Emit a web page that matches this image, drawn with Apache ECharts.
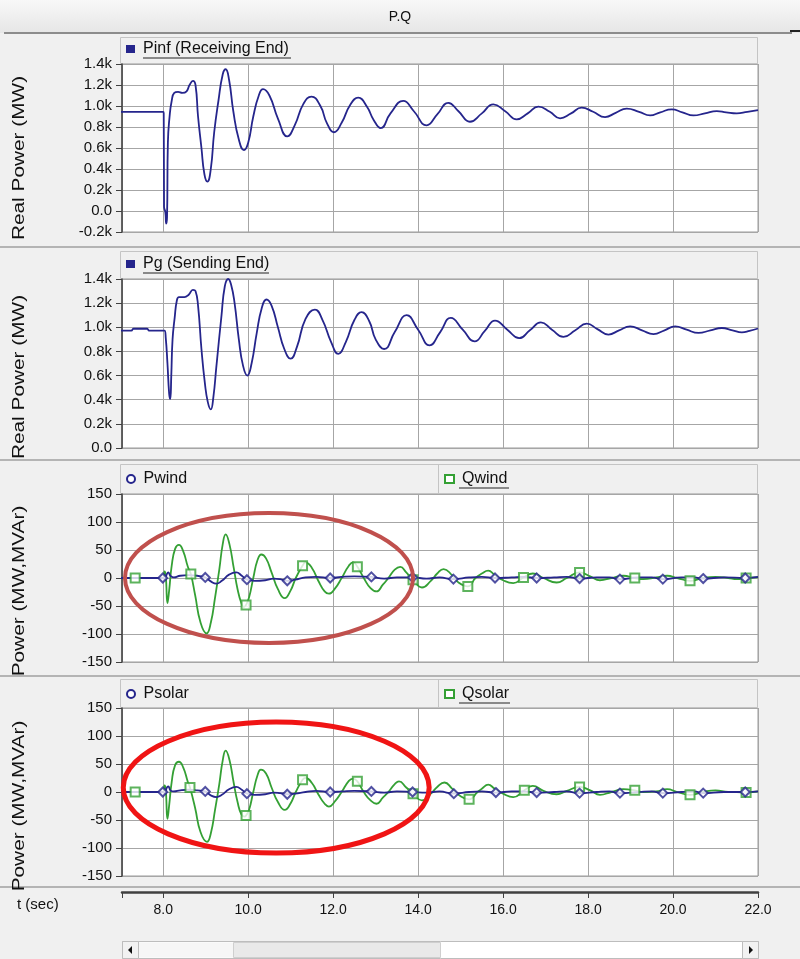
<!DOCTYPE html>
<html>
<head>
<meta charset="utf-8">
<title>P.Q</title>
<script src="https://cdn.jsdelivr.net/npm/echarts@6/dist/echarts.min.js"></script>
<style>
  html, body { margin: 0; padding: 0; background: #f0f0f0; }
  #chart { width: 800px; height: 959px; }
</style>
</head>
<body>
<div id="chart"></div>
<script>
// time axis (sec)
const tMin = 7.03;
const tMax = 22.0;
const timeTicks = [8, 10, 12, 14, 16, 18, 20, 22];

// panel 1 : Pinf (Receiving End), MW
const pinf = [[7.0,945],[8.0,945],[8.012,930],[8.02,40],[8.05,-10],[8.07,-120],[8.09,-60],[8.11,650],[8.15,900],[8.2,1050],[8.26,1125],[8.35,1135],[8.45,1125],[8.55,1140],[8.62,1200],[8.7,1240],[8.76,1200],[8.82,900],[8.9,600],[8.97,350],[9.04,280],[9.12,400],[9.2,750],[9.3,1050],[9.4,1300],[9.47,1350],[9.55,1250],[9.65,950],[9.78,680],[9.9,580],[10.0,650],[10.12,900],[10.25,1100],[10.35,1160],[10.5,1100],[10.7,880],[10.92,710],[11.1,820],[11.3,1020],[11.49,1090],[11.7,1000],[11.85,840],[12.02,750],[12.2,840],[12.4,1010],[12.59,1080],[12.8,990],[12.95,870],[13.12,790],[13.35,930],[13.65,1048],[13.9,950],[14.2,816],[14.45,920],[14.71,1030],[14.95,950],[15.22,850],[15.5,930],[15.77,1016],[16.05,950],[16.32,873],[16.58,930],[16.83,994],[17.1,945],[17.34,883],[17.6,930],[17.85,984],[18.12,945],[18.4,895],[18.65,935],[18.91,975],[19.2,945],[19.46,910],[19.7,940],[19.97,968],[20.22,940],[20.48,910],[20.75,930],[21.03,952],[21.25,940],[21.5,930],[21.75,945],[22.0,960]];

// panel 2 : Pg (Sending End), MW
const pg = [[7.0,972],[7.25,972],[7.3,988],[7.62,988],[7.67,972],[8.03,972],[8.06,910],[8.1,700],[8.14,450],[8.165,405],[8.19,600],[8.22,900],[8.27,1080],[8.32,1220],[8.37,1250],[8.5,1250],[8.6,1270],[8.7,1310],[8.76,1300],[8.82,1180],[8.9,820],[8.98,540],[9.05,380],[9.12,320],[9.18,420],[9.25,670],[9.37,1090],[9.45,1340],[9.53,1400],[9.6,1350],[9.68,1200],[9.78,900],[9.88,680],[9.98,600],[10.08,700],[10.2,950],[10.32,1160],[10.43,1230],[10.55,1180],[10.7,1000],[10.85,820],[11.0,740],[11.15,840],[11.35,1070],[11.57,1147],[11.75,1060],[11.95,880],[12.12,780],[12.3,880],[12.5,1060],[12.67,1125],[12.85,1050],[13.0,900],[13.2,820],[13.45,960],[13.73,1100],[14.0,980],[14.27,850],[14.52,960],[14.77,1078],[15.05,980],[15.33,883],[15.57,970],[15.81,1056],[16.1,980],[16.38,910],[16.63,975],[16.89,1040],[17.15,980],[17.42,920],[17.7,975],[17.97,1030],[18.22,985],[18.48,940],[18.73,975],[18.99,1008],[19.27,975],[19.54,944],[19.8,975],[20.05,1008],[20.32,980],[20.6,953],[20.88,975],[21.15,994],[21.4,975],[21.62,958],[21.8,970],[22.0,990]];

// panel 3 : wind, MW / MVAr
const pwind = [[7.0,0],[8.0,0],[8.04,-3],[8.08,6],[8.12,10],[8.17,4],[8.25,1],[8.4,4],[8.6,5],[8.8,4],[8.99,1],[9.12,-6],[9.25,-10],[9.38,-5],[9.55,6],[9.72,10],[9.85,4],[9.97,-3],[10.15,-5],[10.4,-4],[10.6,-1],[10.75,-2],[10.92,-5],[11.1,-3],[11.35,1],[11.6,2],[11.93,0],[12.2,2],[12.5,3],[12.9,2],[13.2,-1],[13.5,1],[13.87,1],[14.2,-1],[14.5,1],[14.83,-2],[15.2,1],[15.5,2],[15.81,0],[16.2,1],[16.5,2],[16.79,0],[17.2,1],[17.5,2],[17.8,-1],[18.2,1],[18.5,1],[18.75,-2],[19.2,1],[19.5,1],[19.76,-2],[20.2,1],[20.5,1],[20.71,-1],[21.2,1],[21.7,0],[22.0,2]];
const pwindMarks = [[7.0,0],[7.99,0],[8.99,1],[9.97,-3],[10.92,-5],[11.93,0],[12.9,2],[13.87,1],[14.83,-2],[15.81,0],[16.79,0],[17.8,-1],[18.75,-2],[19.76,-2],[20.71,-1],[21.7,0]];
const qwind = [[7.0,0],[8.0,0],[8.03,12],[8.06,4],[8.1,-45],[8.14,-22],[8.2,22],[8.28,52],[8.37,59],[8.47,48],[8.58,20],[8.65,7],[8.75,-30],[8.88,-80],[9.02,-99],[9.12,-80],[9.22,-35],[9.32,15],[9.4,60],[9.47,78],[9.56,60],[9.66,18],[9.75,-20],[9.84,-45],[9.9,-52],[9.95,-48],[10.02,-35],[10.12,0],[10.22,32],[10.31,42],[10.42,35],[10.55,10],[10.7,-20],[10.86,-36],[11.0,-22],[11.12,0],[11.28,22],[11.35,28],[11.5,18],[11.65,-5],[11.8,-24],[11.9,-28],[12.05,-18],[12.2,0],[12.37,22],[12.47,28],[12.57,20],[12.72,0],[12.88,-18],[13.02,-24],[13.17,-12],[13.3,0],[13.45,15],[13.58,20],[13.72,10],[13.88,-3],[14.09,-17],[14.3,-5],[14.45,8],[14.6,16],[14.8,5],[14.95,-8],[15.17,-15],[15.35,0],[15.5,8],[15.65,13],[15.8,6],[16.0,-4],[16.24,-9],[16.48,1],[16.7,8],[16.95,0],[17.26,-8],[17.5,0],[17.8,10],[18.05,3],[18.28,-4],[18.55,0],[18.83,4],[19.1,0],[19.3,-2],[19.6,1],[19.86,4],[20.1,0],[20.4,-5],[20.7,0],[21.0,2],[21.3,0],[21.5,-2],[21.72,0],[22.0,1]];
const qwindMarks = [[7.34,0],[8.65,7],[9.95,-48],[11.28,22],[12.57,20],[13.88,-3],[15.17,-15],[16.48,1],[17.8,10],[19.1,0],[20.4,-5],[21.72,0]];

// panel 4 : solar, MW / MVAr
const psolar = [[7.0,0],[8.0,0],[8.04,-3],[8.08,7],[8.12,10],[8.17,3],[8.25,1],[8.4,3],[8.6,4],[8.8,3],[8.99,1],[9.12,-6],[9.25,-9],[9.38,-5],[9.55,5],[9.72,9],[9.85,4],[9.97,-3],[10.15,-5],[10.4,-4],[10.6,-1],[10.75,-2],[10.92,-4],[11.1,-3],[11.35,0],[11.6,2],[11.93,0],[12.2,1],[12.5,2],[12.9,1],[13.2,-1],[13.5,1],[13.87,0],[14.2,-1],[14.5,1],[14.84,-3],[15.2,0],[15.5,1],[15.83,-1],[16.2,1],[16.5,1],[16.79,-1],[17.2,0],[17.5,1],[17.8,-2],[18.2,0],[18.5,1],[18.75,-2],[19.2,0],[19.5,1],[19.76,-2],[20.2,0],[20.5,1],[20.71,-2],[21.2,0],[21.7,0],[22.0,1]];
const psolarMarks = [[7.0,0],[7.99,0],[8.99,1],[9.97,-3],[10.92,-4],[11.93,0],[12.9,1],[13.87,0],[14.84,-3],[15.83,-1],[16.79,-1],[17.8,-2],[18.75,-2],[19.76,-2],[20.71,-2],[21.7,0]];
const qsolar = [[7.0,0],[8.0,0],[8.03,12],[8.06,4],[8.1,-48],[8.14,-24],[8.2,18],[8.28,48],[8.37,54],[8.47,44],[8.58,18],[8.63,8],[8.75,-28],[8.88,-72],[9.03,-89],[9.12,-74],[9.22,-32],[9.32,14],[9.4,56],[9.47,74],[9.56,57],[9.66,16],[9.75,-18],[9.84,-40],[9.92,-44],[9.95,-42],[10.02,-32],[10.12,0],[10.22,30],[10.3,40],[10.42,33],[10.55,8],[10.7,-18],[10.86,-32],[11.0,-20],[11.12,0],[11.28,22],[11.35,25],[11.5,16],[11.65,-4],[11.8,-21],[11.9,-26],[12.05,-16],[12.2,0],[12.37,20],[12.47,24],[12.57,19],[12.72,0],[12.88,-15],[13.02,-21],[13.17,-10],[13.3,0],[13.45,14],[13.55,19],[13.72,8],[13.88,-3],[14.09,-15],[14.3,-3],[14.45,9],[14.62,17],[14.8,6],[14.95,-5],[15.2,-13],[15.4,0],[15.5,6],[15.65,13],[15.8,6],[16.0,-3],[16.24,-9],[16.5,3],[16.7,11],[16.95,2],[17.26,-4],[17.5,2],[17.8,9],[18.05,3],[18.28,-5],[18.55,0],[18.83,5],[19.1,3],[19.3,0],[19.6,1],[19.86,5],[20.1,0],[20.4,-5],[20.7,0],[21.0,3],[21.3,0],[21.5,0],[21.72,-1],[22.0,1]];
const qsolarMarks = [[7.34,0],[8.63,8],[9.95,-42],[11.28,22],[12.57,19],[13.88,-3],[15.2,-13],[16.5,3],[17.8,9],[19.1,3],[20.4,-5],[21.72,-1]];

const font = "'Liberation Sans', Arial, sans-serif";
const navy = "#25258c";
const green = "#34a034";
const gridColor = "#a6a6a6";

// plot areas, y ranges
const panels = [
  { top: 64, height: 168, min: -200, max: 1400, step: 200, kilo: true, name: "Real Power (MW)", nameY: 158 },
  { top: 279, height: 169, min: 0, max: 1400, step: 200, kilo: true, name: "Real Power (MW)", nameY: 377 },
  { top: 494, height: 168, min: -150, max: 150, step: 50, kilo: false, name: "Power (MW,MVAr)", nameY: 591 },
  { top: 708, height: 168, min: -150, max: 150, step: 50, kilo: false, name: "Power (MW,MVAr)", nameY: 806 },
];

const chart = echarts.init(document.getElementById("chart"));

const kiloLabel = (v) => (v === 0 ? "0.0" : (v / 1000).toFixed(1) + "k");

const lineSeries = (name, idx, data, color) => ({
  type: "line",
  name: name,
  xAxisIndex: idx,
  yAxisIndex: idx,
  data: data,
  symbol: "none",
  smooth: 0.5,
  lineStyle: { color: color, width: 1.8 },
  itemStyle: { color: color },
  silent: true,
});

const markSeries = (name, idx, data, color, symbol, size) => ({
  type: "scatter",
  name: name,
  xAxisIndex: idx,
  yAxisIndex: idx,
  data: data,
  symbol: symbol,
  symbolSize: size,
  itemStyle: { color: color },
  silent: true,
  z: 3,
});

const legendText = { fontFamily: font, fontSize: 16, color: "#111", padding: [0, 0, 0, 3] };
const makeLegend = (name, left, top, icon) => ({
  left: left,
  top: top,
  padding: 0,
  itemWidth: 9,
  itemHeight: 8,
  selectedMode: false,
  data: [{ name: name, icon: icon }],
  textStyle: legendText,
});

const option = {
  animation: false,
  backgroundColor: "#f0f0f0",
  grid: panels.map((p) => ({
    left: 122,
    width: 636,
    top: p.top,
    height: p.height,
    show: true,
    backgroundColor: "#fff",
    borderColor: "#9a9a9a",
    borderWidth: 1,
  })),
  xAxis: panels.map((p, i) => ({
    type: "value",
    gridIndex: i,
    min: tMin,
    max: tMax,
    minInterval: 2,
    maxInterval: 2,
    offset: i === 3 ? 16 : 0,
    axisLine: { show: i === 3, onZero: false, lineStyle: { color: "#404040", width: 2.5 } },
    axisTick: { show: i === 3, length: 6, lineStyle: { color: "#404040", width: 1 } },
    axisLabel: {
      show: i === 3,
      margin: 11,
      fontFamily: font,
      fontSize: 14,
      color: "#111",
      formatter: (v) => (timeTicks.includes(Math.round(v * 100) / 100) ? v.toFixed(1) : ""),
    },
    splitLine: { show: true, lineStyle: { color: gridColor, width: 1 } },
  })),
  yAxis: panels.map((p, i) => ({
    type: "value",
    gridIndex: i,
    min: p.min,
    max: p.max,
    interval: p.step,
    axisLine: { show: true, lineStyle: { color: "#404040", width: 1.5 } },
    axisTick: { show: true, length: 6, lineStyle: { color: "#404040" } },
    axisLabel: {
      margin: 10,
      fontFamily: font,
      fontSize: 15,
      color: "#111",
      formatter: p.kilo ? kiloLabel : (v) => String(v),
    },
    splitLine: { show: true, lineStyle: { color: gridColor, width: 1 } },
  })),
  legend: [
    makeLegend("Pinf (Receiving End)", 126, 41, "rect"),
    makeLegend("Pg (Sending End)", 126, 256, "rect"),
    makeLegend("Pwind", 126, 471, "emptyCircle"),
    makeLegend("Qwind", 444, 471, "emptyRect"),
    makeLegend("Psolar", 126, 686, "emptyCircle"),
    makeLegend("Qsolar", 444, 686, "emptyRect"),
  ],
  series: [
    lineSeries("Pinf (Receiving End)", 0, pinf, navy),
    lineSeries("Pg (Sending End)", 1, pg, navy),
    lineSeries("Qwind", 2, qwind, green),
    lineSeries("Pwind", 2, pwind, navy),
    markSeries("Qwind marks", 2, qwindMarks, green, "emptyRect", 9),
    markSeries("Pwind marks", 2, pwindMarks, navy, "emptyDiamond", 9),
    lineSeries("Qsolar", 3, qsolar, green),
    lineSeries("Psolar", 3, psolar, navy),
    markSeries("Qsolar marks", 3, qsolarMarks, green, "emptyRect", 9),
    markSeries("Psolar marks", 3, psolarMarks, navy, "emptyDiamond", 9),
  ],
};

chart.setOption(option);

// frame, headers, axis names and the red rings
const g = [];
const txt = (text, x, y, size, align) => ({
  type: "text",
  x: x,
  y: y,
  silent: true,
  style: { text: text, font: size + "px " + font, fill: "#111", align: align || "left", verticalAlign: "middle" },
});
const line = (x1, y1, x2, y2, color, w) => ({
  type: "line",
  silent: true,
  shape: { x1: x1, y1: y1, x2: x2, y2: y2 },
  style: { stroke: color, lineWidth: w },
});
const rect = (x, y, w, h, fill, stroke) => ({
  type: "rect",
  silent: true,
  shape: { x: x, y: y, width: w, height: h },
  style: { fill: fill, stroke: stroke || null, lineWidth: 1 },
});

// title bar
g.push({
  type: "rect",
  silent: true,
  shape: { x: 0, y: 0, width: 800, height: 33 },
  style: {
    fill: new echarts.graphic.LinearGradient(0, 0, 0, 1, [
      { offset: 0, color: "#f8f8f8" },
      { offset: 1, color: "#e6e6e6" },
    ]),
  },
});
g.push(txt("P.Q", 400, 17, 14, "center"));
g.push(line(4, 33, 792, 33, "#8c8c8c", 2));
g.push(line(790, 31, 800, 31, "#222", 2));

// legend header cells
const headers = [
  { y: 37, h: 26, split: false },
  { y: 251, h: 27, split: false },
  { y: 464, h: 29, split: true },
  { y: 679, h: 28, split: true },
];
headers.forEach((hd) => {
  g.push(rect(120.5, hd.y + 0.5, 637, hd.h, "#f0f0f0", "#c4c4c4"));
  if (hd.split) g.push(line(438.5, hd.y, 438.5, hd.y + hd.h, "#c4c4c4", 1));
});

// underline of the selected legend entry
g.push(line(143, 58, 291, 58, "#222", 1.2));
g.push(line(143, 273, 269, 273, "#222", 1.2));
g.push(line(459, 488, 509, 488, "#222", 1.2));
g.push(line(459, 703, 510, 703, "#222", 1.2));

// panel separators
[247, 460, 676, 887].forEach((y) => g.push(line(0, y, 800, y, "#b4b4b4", 2)));

// y axis names (stretched along the text like the screenshot)
panels.forEach((p) => {
  g.push({
    type: "text",
    silent: true,
    x: 20,
    y: p.nameY,
    rotation: Math.PI / 2,
    scaleX: 1.3,
    style: { text: p.name, font: "16px " + font, fill: "#111", align: "center", verticalAlign: "middle" },
  });
});

// time axis title
g.push(txt("t (sec)", 17, 905, 15));

// scroll bar
g.push(rect(122.5, 941.5, 636, 17, "#ffffff", "#bdbdbd"));
g.push(rect(138.5, 942.5, 95, 15, "#f6f6f6", null));
g.push(rect(233.5, 942.5, 207, 15, "#e9e9e9", "#cfcfcf"));
g.push(rect(122.5, 941.5, 16, 17, "#f2f2f2", "#bdbdbd"));
g.push(rect(742.5, 941.5, 16, 17, "#f2f2f2", "#bdbdbd"));
g.push({ type: "polygon", silent: true, shape: { points: [[128, 950], [132, 946], [132, 954]] }, style: { fill: "#111" } });
g.push({ type: "polygon", silent: true, shape: { points: [[753, 950], [749, 946], [749, 954]] }, style: { fill: "#111" } });

// highlight rings, placed in data units of their panels
const rings = [
  { grid: 2, t: 10.49, v: 0, dt: 3.39, dv: 116, color: "#c0504d", width: 4 },
  { grid: 3, t: 10.66, v: 8, dt: 3.6, dv: 117, color: "#f01414", width: 5 },
];
rings.forEach((r) => {
  const c = chart.convertToPixel({ gridIndex: r.grid }, [r.t, r.v]);
  const e = chart.convertToPixel({ gridIndex: r.grid }, [r.t + r.dt, r.v + r.dv]);
  g.push({
    type: "ellipse",
    silent: true,
    z: 100,
    shape: { cx: c[0], cy: c[1], rx: e[0] - c[0], ry: c[1] - e[1] },
    style: { fill: "transparent", stroke: r.color, lineWidth: r.width },
  });
});

chart.setOption({ graphic: g });
</script>
</body>
</html>
